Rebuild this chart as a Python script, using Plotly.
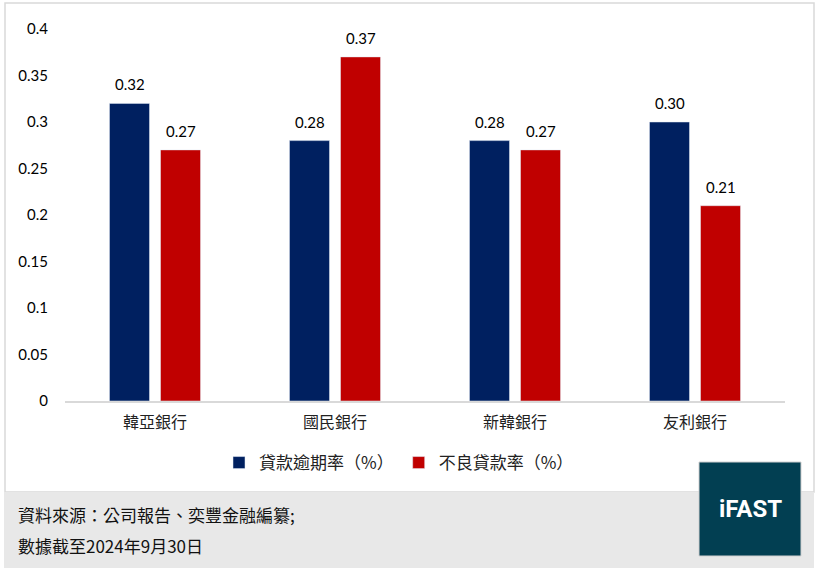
import plotly.graph_objects as go

W, H = 821, 575

# data
banks = ["韓亞銀行", "國民銀行", "新韓銀行", "友利銀行"]
overdue_rate = [0.32, 0.28, 0.28, 0.30]
npl_rate = [0.27, 0.37, 0.27, 0.21]
series_names = ["貸款逾期率（%）", "不良貸款率（%）"]
source_lines = ["資料來源：公司報告、奕豐金融編纂;", "數據截至2024年9月30日"]

num_font = "Lato, 'Noto Sans CJK TC', sans-serif"
cjk_font = "'Noto Sans CJK TC', sans-serif"
colors = ["#002060", "#C00000"]


def px(x):
    return x / W


def py(y):
    return 1 - y / H


fig = go.Figure()
for name, vals, col in zip(series_names, [overdue_rate, npl_rate], colors):
    fig.add_trace(go.Bar(x=banks, y=vals, name=name, marker_color=col))

# value labels sit a bit higher than plotly's "outside" text
annotations = []
for vals, shift in [(overdue_rate, -25.5), (npl_rate, 25.5)]:
    for b, v in zip(banks, vals):
        annotations.append(dict(
            x=b, y=v, xref="x", yref="y", text=f"{v:.2f}", showarrow=False,
            xshift=shift, yshift=8, yanchor="bottom", xanchor="center",
            font=dict(family=num_font, size=15, color="#000000")))

# outer panel, footer band and logo
shapes = [
    dict(type="rect", xref="paper", yref="paper",
         x0=px(5), x1=px(814), y0=py(492), y1=py(3),
         line=dict(color="#D9D9D9", width=1.5), fillcolor="rgba(0,0,0,0)", layer="below"),
    dict(type="rect", xref="paper", yref="paper",
         x0=px(4), x1=px(814), y0=py(568), y1=py(492),
         line=dict(width=0), fillcolor="#E8E8E8", layer="below"),
    dict(type="rect", xref="paper", yref="paper",
         x0=px(699), x1=px(801), y0=py(556), y1=py(462),
         line=dict(color="#D0D0D0", width=1), fillcolor="#023F52", layer="above"),
]

annotations += [
    dict(text="<b>iFAST</b>", xref="paper", yref="paper", x=px(750), y=py(509),
         showarrow=False, font=dict(family="Roboto, Arial, sans-serif", size=24, color="white"),
         xanchor="center", yanchor="middle"),
    dict(text=source_lines[0], xref="paper", yref="paper", x=px(16), y=py(514),
         showarrow=False, font=dict(family=cjk_font, size=17, color="#111111"),
         xanchor="left", yanchor="middle"),
    dict(text=source_lines[1], xref="paper", yref="paper", x=px(16), y=py(545),
         showarrow=False, font=dict(family=cjk_font, size=17, color="#111111"),
         xanchor="left", yanchor="middle"),
]

fig.update_layout(
    width=W, height=H,
    margin=dict(l=0, r=0, t=0, b=0, autoexpand=False),
    paper_bgcolor="white", plot_bgcolor="white",
    barmode="group", bargap=0.433, bargroupgap=0.216,
    showlegend=True,
    legend=dict(orientation="h", x=px(399), y=py(463), xanchor="center", yanchor="middle",
                font=dict(family=cjk_font, size=17, color="#222222"),
                itemwidth=30, traceorder="normal", bgcolor="rgba(0,0,0,0)"),
    xaxis=dict(domain=[px(65), px(785)], showline=True, linecolor="#D9D9D9", linewidth=1.5,
               ticks="", ticklabelstandoff=6,
               tickfont=dict(family=cjk_font, size=16, color="#222222"),
               showgrid=False, automargin=False),
    yaxis=dict(domain=[py(401), py(29)], range=[0, 0.4], dtick=0.05, showgrid=False,
               zeroline=False, showline=False, ticks="", ticklabelstandoff=16,
               tickfont=dict(family=num_font, size=15, color="#000000"),
               tickformat="~g", automargin=False),
    shapes=shapes,
    annotations=annotations,
)

# the page's default body margin would push the figure 8px down/right
fig.write_html("out.html", config={"displayModeBar": False},
               post_script="document.body.style.margin='0';")
